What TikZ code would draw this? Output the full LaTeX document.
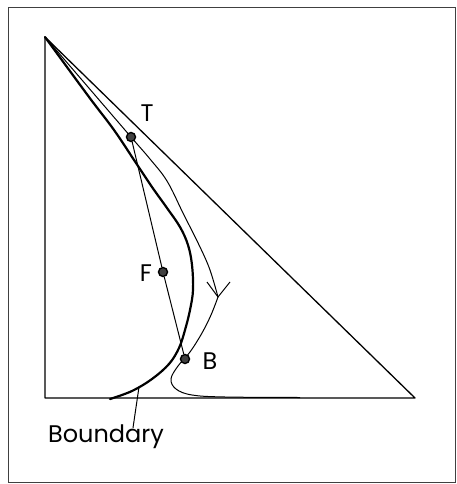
\documentclass[tikz,border=0pt]{standalone}
\usepackage{fontspec}
\setmainfont{Poppins}
\usetikzlibrary{arrows.meta}

\begin{document}
\begin{tikzpicture}[
  x=1pt,
  y=-1pt,
  every node/.style={font=\fontsize{24}{26}\selectfont, inner sep=0pt},
  frame/.style={draw=black!75, line width=0.9pt},
  triedge/.style={draw=black, line width=1.3pt, line join=round},
  bound/.style={draw=black, line width=2.2pt, line cap=round},
  path/.style={draw=black, line width=1pt},
  barb/.style={draw=black, line width=1pt, line join=miter},
  chord/.style={draw=black, line width=1pt},
  dot/.style={circle, draw=black, fill=black!75, line width=1.4pt, minimum size=9pt},
  leader/.style={draw=black, line width=1pt}
]
  \useasboundingbox (0,0) rectangle (457,484);
  \draw[frame] (8,7) rectangle (455,482);

  % triangle
  \coordinate (apex) at (45,37);
  \coordinate (corner) at (45,398);
  \coordinate (right) at (415,398);
  \draw[triedge] (apex) -- (corner) -- (right) -- cycle;

  % boundary
  \draw[bound] plot[smooth, tension=0.6] coordinates {
    (45,37) (89,97) (114,130) (136,163) (152,187) (167,208) (180,227)
    (188,245) (192,265) (193,290) (190,310) (185,330) (179,348)
    (169,364) (152,379) (132,391) (110,399)};

  % path through T
  \coordinate (tip) at (218,297);
  \draw[path] plot[smooth, tension=0.6] coordinates {
    (45,37) (88,87) (131,137) (150,159) (167,181) (183,213)
    (200,247) (210,270) (218,297)};
  \draw[barb] ([shift={(-11,-15)}]tip) -- (tip) -- ([shift={(12,-15)}]tip);
  \draw[path] plot[smooth, tension=0.6] coordinates {
    (218,297) (211,315) (202,333) (190,352) (178,366) (171,379)
    (176,389) (192,395) (225,397) (300,397.5)};

  \node[dot] (T) at (131,137) {};
  \node[dot] (F) at (163,272) {};
  \node[dot] (B) at (185,359) {};
  \draw[chord] (T) -- (F) -- (B);

  \node (tlabel) at (147,113) {T};
  \node (flabel) at (146,273) {F};
  \node (blabel) at (210,361) {B};

  \node (boundlabel) at (106,437) {Boundary};
  \coordinate (bpt) at (139,387);
  \draw[leader] (bpt) -- ([xshift=27pt, yshift=-3pt]boundlabel.north);
\end{tikzpicture}
\end{document}
